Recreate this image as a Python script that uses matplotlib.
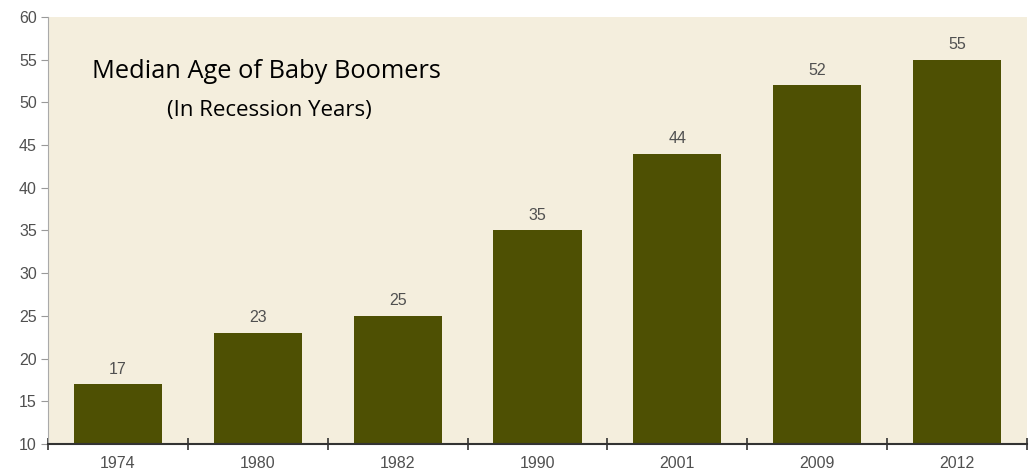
import matplotlib.pyplot as plt
import numpy as np

years = ["1974", "1980", "1982", "1990", "2001", "2009", "2012"]
ages = [17, 23, 25, 35, 44, 52, 55]

bar_color = '#4e5003'
bg_color = '#f4eedd'

fig = plt.figure(figsize=(10.36, 4.71), dpi=100)
ax = fig.add_axes([48/1036, 27/471, 979/1036, 427/471])
ax.set_facecolor(bg_color)

x = np.arange(len(years))
ax.bar(x, ages, width=0.63, color=bar_color, zorder=2)
for xi, v in zip(x, ages):
    ax.text(xi, v + 0.9, str(v), ha='center', va='bottom', fontsize=11.5,
            color='#505050', family='Liberation Sans')

ax.set_xlim(-0.5, len(years) - 0.5)
ax.set_ylim(10, 60)
ax.set_yticks(range(10, 61, 5))
ax.set_xticks(x)
ax.set_xticklabels(years)
ax.set_xticks(np.arange(-0.5, len(years)), minor=True)

ax.tick_params(axis='x', which='major', length=0, pad=9, labelsize=11.5, labelcolor='#505050')
ax.tick_params(axis='x', which='minor', length=9, direction='inout', width=1.2, color='#333333')
ax.tick_params(axis='y', length=5, width=0.8, color='#999999', labelsize=11.5, labelcolor='#505050', pad=3)
for lbl in ax.get_xticklabels() + ax.get_yticklabels():
    lbl.set_family('Liberation Sans')

ax.spines['top'].set_visible(False)
ax.spines['right'].set_visible(False)
ax.spines['left'].set_color('#aaaaaa')
ax.spines['left'].set_linewidth(0.8)
ax.spines['bottom'].set_color('#333333')
ax.spines['bottom'].set_linewidth(1.5)
ax.spines['bottom'].set_zorder(3)

ax.text(0.045, 0.857, "Median Age of Baby Boomers", transform=ax.transAxes,
        ha='left', va='baseline', fontsize=18.3, family='Open Sans', color='black')
ax.text(0.226, 0.780, "(In Recession Years)", transform=ax.transAxes,
        ha='center', va='center', fontsize=16, family='Open Sans', color='black')

plt.savefig('out.png', dpi=100)
